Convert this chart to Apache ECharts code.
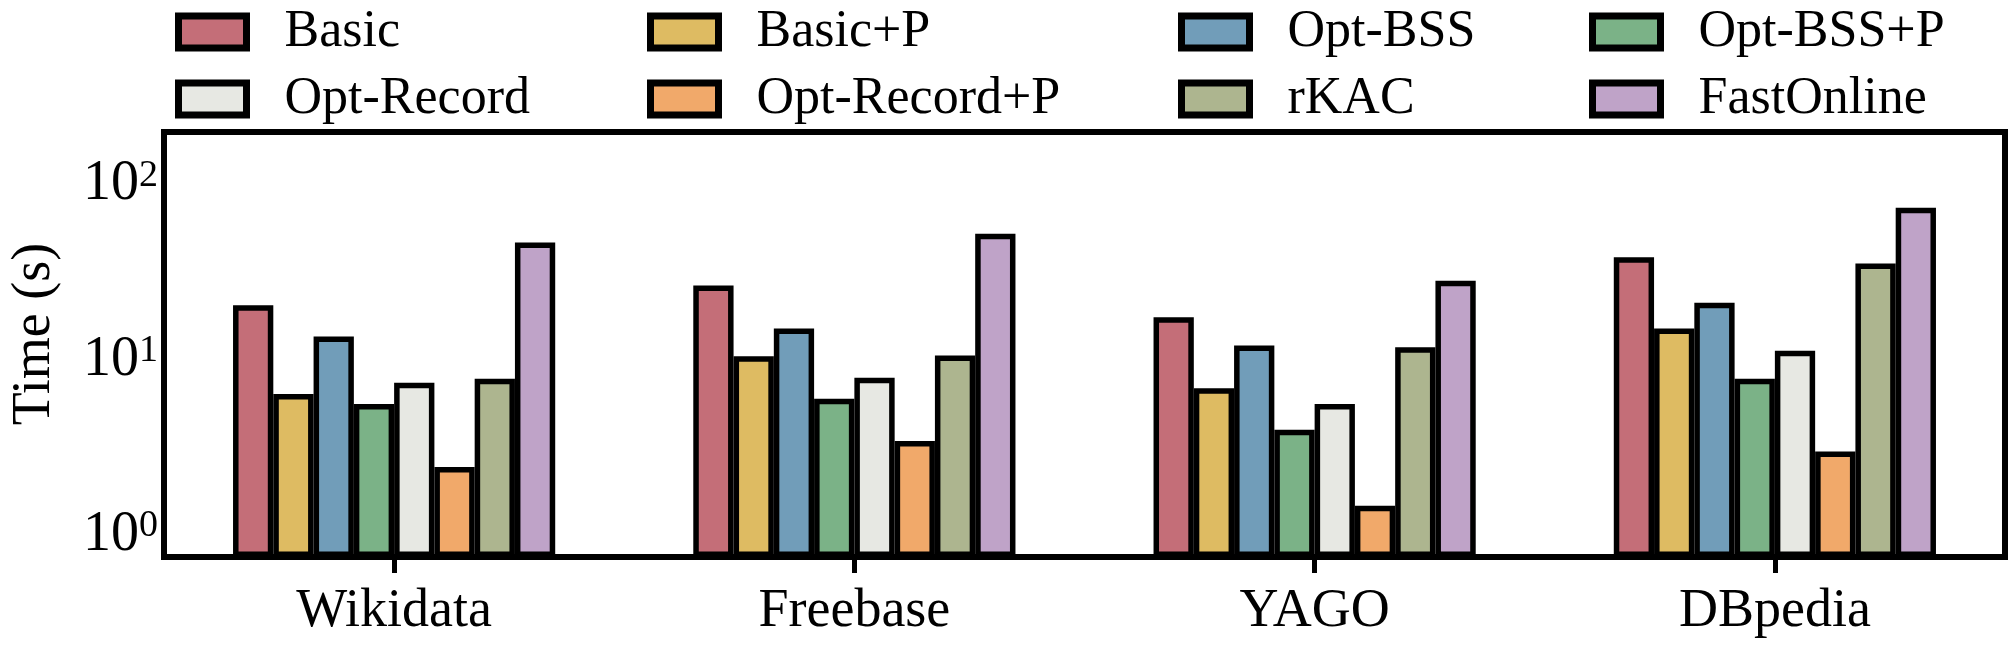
<!DOCTYPE html>
<html>
<head>
<meta charset="utf-8">
<script src="https://cdn.jsdelivr.net/npm/echarts@6/dist/echarts.min.js"></script>
<style>
  html, body { margin: 0; padding: 0; background: #fff; }
  #chart { width: 2011px; height: 647px; }
</style>
</head>
<body>
<div id="chart"></div>
<script>
const categories = ['Wikidata', 'Freebase', 'YAGO', 'DBpedia'];

const basic       = [20.5, 26.6, 17.5, 38.5];
const basicP      = [6.4, 10.5, 6.9, 15.1];
const optBss      = [13.6, 15.1, 12.1, 21.2];
const optBssP     = [5.6, 6.0, 4.0, 7.8];
const optRecord   = [7.4, 7.9, 5.6, 11.3];
const optRecordP  = [2.45, 3.45, 1.47, 3.0];
const rKac        = [7.8, 10.6, 11.8, 35.5];
const fastOnline  = [46.8, 52.5, 28.3, 74.0];

const seriesNames = ['Basic', 'Basic+P', 'Opt-BSS', 'Opt-BSS+P', 'Opt-Record', 'Opt-Record+P', 'rKAC', 'FastOnline'];
const seriesData = [basic, basicP, optBss, optBssP, optRecord, optRecordP, rKac, fastOnline];
const colors = ['#C46E78', '#DEBB62', '#719DB9', '#7BB287', '#E7E8E3', '#F1A96A', '#ADB58F', '#BFA3C8'];

const yMin = 0.75;
const yMax = 200;

const font = "'Liberation Serif', 'Times New Roman', serif";

// legend is laid out as 4 columns of 2 rows
const legendColumns = [
    ['Basic', 'Opt-Record'],
    ['Basic+P', 'Opt-Record+P'],
    ['Opt-BSS', 'rKAC'],
    ['Opt-BSS+P', 'FastOnline']
];
const legendLefts = [175, 647, 1178, 1589];

const chart = echarts.init(document.getElementById('chart'), null, { renderer: 'canvas' });

const option = {
    animation: false,
    backgroundColor: '#fff',
    legend: legendColumns.map((names, i) => ({
        data: names,
        orient: 'vertical',
        left: legendLefts[i],
        top: 6,
        padding: 0,
        itemGap: 15,
        itemWidth: 68,
        itemHeight: 32,
        icon: 'rect',
        selectedMode: false,
        itemStyle: { borderColor: '#000', borderWidth: 7 },
        textStyle: {
            fontFamily: font,
            fontSize: 52,
            color: '#000',
            lineHeight: 32,
            padding: [0, 0, 5, 33]
        }
    })),
    grid: {
        left: 162,
        right: 6,
        top: 132,
        bottom: 90,
        show: true,
        borderColor: '#000',
        borderWidth: 6,
        containLabel: false
    },
    xAxis: {
        type: 'category',
        data: categories,
        axisLine: { show: true, lineStyle: { color: '#000', width: 6 } },
        axisTick: { show: true, alignWithLabel: true, length: 16, lineStyle: { color: '#000', width: 5 } },
        axisLabel: { fontFamily: font, fontSize: 54, color: '#000', margin: 28 },
        splitLine: { show: false }
    },
    yAxis: {
        type: 'log',
        logBase: 10,
        min: yMin,
        max: yMax,
        startValue: yMin,
        name: 'Time (s)',
        nameLocation: 'middle',
        nameGap: 102,
        nameTextStyle: { fontFamily: font, fontSize: 54, color: '#000', padding: [0, 0, 0, 21] },
        axisLine: { show: false },
        axisTick: { show: false },
        splitLine: { show: false },
        axisLabel: {
            margin: 6,
            color: '#000',
            fontFamily: font,
            fontSize: 56,
            formatter: function (value) {
                const e = Math.log10(value);
                if (Math.abs(e - Math.round(e)) > 1e-6) return '';
                return '{a|10}{b|' + Math.round(e) + '}';
            },
            rich: {
                a: { fontFamily: font, fontSize: 56, color: '#000' },
                b: { fontFamily: font, fontSize: 38, color: '#000', verticalAlign: 'top' }
            }
        }
    },
    series: seriesNames.map((name, i) => ({
        name: name,
        type: 'bar',
        data: seriesData[i],
        barGap: '0%',
        barCategoryGap: '30%',
        itemStyle: { color: colors[i], borderColor: '#000', borderWidth: 5.5 }
    }))
};

chart.setOption(option);
</script>
</body>
</html>
